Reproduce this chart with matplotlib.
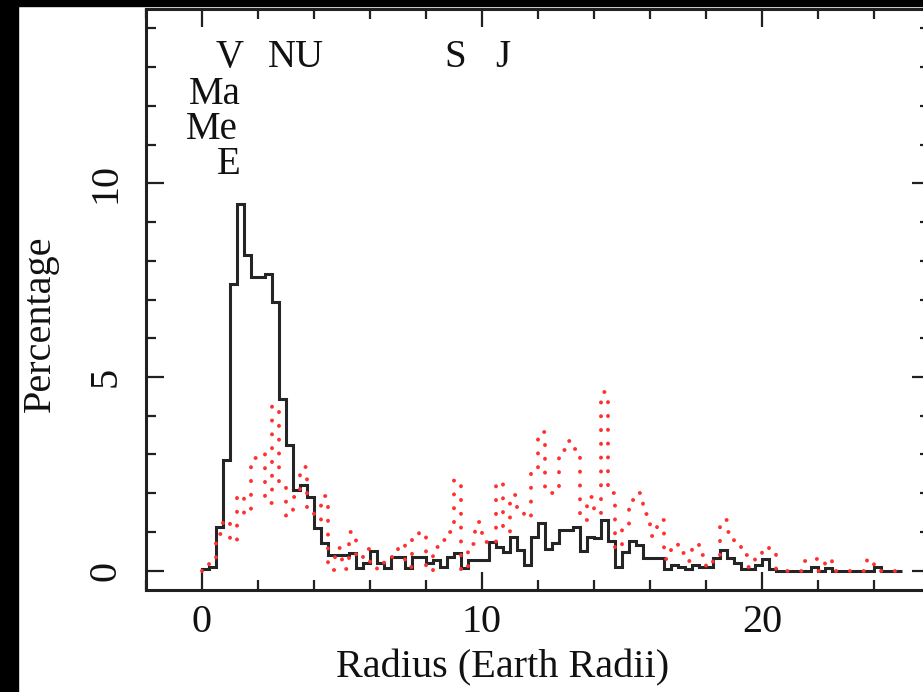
import numpy as np
import matplotlib
matplotlib.use('Agg')
import matplotlib.pyplot as plt
from matplotlib.patches import Rectangle
from matplotlib.ticker import MultipleLocator

# histogram of planet radii, bins of 0.25 Earth radii from 0 to 25
bin_width = 0.25
black_pct = [
    0.05, 0.1, 1.13, 2.85, 7.4, 9.47, 8.14, 7.58, 7.58, 7.66,
    6.93, 4.44, 3.24, 2.08, 2.21, 1.91, 1.09, 0.72, 0.4, 0.4,
    0.4, 0.46, 0.08, 0.2, 0.5, 0.2, 0.06, 0.36, 0.36, 0.06,
    0.36, 0.36, 0.19, 0.27, 0.1, 0.36, 0.45, 0.06, 0.27, 0.27,
    0.27, 0.75, 0.62, 0.49, 0.88, 0.53, 0.15, 0.88, 1.22, 0.55,
    0.72, 1.05, 1.05, 1.13, 0.5, 0.88, 0.83, 1.31, 0.77, 0.1,
    0.48, 0.77, 0.66, 0.32, 0.32, 0.32, 0.03, 0.15, 0.1, 0.03,
    0.15, 0.09, 0.09, 0.32, 0.53, 0.32, 0.19, 0.03, 0.03, 0.15,
    0.29, 0.03, 0.0, 0.0, 0.0, 0.0, 0.0, 0.1, 0.0, 0.08,
    0.0, 0.0, 0.0, 0.0, 0.0, 0.0, 0.1, 0.0, 0.0, 0.0,
]
red_pct = [
    0.03, 0.27, 0.95, 1.3, 0.75, 1.95, 1.45, 2.9, 3.0, 1.75,
    4.25, 2.2, 1.4, 1.9, 2.68, 1.5, 1.3, 1.92, 0.02, 0.58,
    0.05, 1.0, 0.3, 0.55, 0.15, 0.05, 0.35, 0.36, 0.7, 0.1,
    0.83, 1.0, 0.0, 0.62, 0.8, 1.0, 2.34, 0.0, 0.7, 1.26,
    0.75, 0.7, 2.3, 1.0, 1.95, 1.5, 1.35, 2.64, 3.58, 2.04,
    2.0, 3.11, 3.35, 3.15, 1.3, 1.9, 1.45, 4.6, 2.0, 0.55,
    1.1, 1.82, 2.0, 1.45, 0.9, 1.3, 0.3, 0.69, 0.46, 0.26,
    0.69, 0.4, 0.1, 0.35, 1.3, 1.0, 0.69, 0.4, 0.1, 0.35,
    0.6, 0.55, 0.02, 0.0, 0.0, 0.0, 0.25, 0.3, 0.0, 0.3,
    0.0, 0.0, 0.0, 0.0, 0.0, 0.3, 0.1, 0.0, 0.0, 0.0,
]

# solar system planets marked at the top
planet_names = ['V', 'NU', 'S', 'J', 'Ma', 'Me', 'E']
planet_x = [0.98, 3.35, 9.04, 10.75, 0.47, 0.37, 0.96]
planet_y = [13.0, 13.0, 13.0, 13.0, 12.05, 11.15, 10.25]

edges = np.arange(len(black_pct) + 1) * bin_width

plt.rcParams['font.family'] = ['Liberation Serif', 'DejaVu Serif']

W, H = 923, 692
fig = plt.figure(figsize=(W / 100, H / 100), dpi=100)
fig.patch.set_facecolor('white')

# axes placed in pixels; right side runs just past the picture edge
left_px, right_px, top_px, bot_px = 145.7, 930.2, 9, 590
ax = fig.add_axes([left_px / W, (H - bot_px) / H,
                   (right_px - left_px) / W, (bot_px - top_px) / H])

ax.stairs(black_pct, edges, color='#252525', lw=2.2, zorder=3)
red = ax.stairs(red_pct, edges, color='#ff3030', lw=2.8,
                linestyle=(0, (0.05, 3.5)), zorder=4)
red.set_capstyle('round')

for name, px, py in zip(planet_names, planet_x, planet_y):
    ax.text(px, py, name, ha='center', va='baseline', fontsize=28,
            color='#111111')

ax.set_xlim(-2, 26)
ax.set_ylim(-0.5, 14.5)

ax.xaxis.set_major_locator(MultipleLocator(10))
ax.xaxis.set_minor_locator(MultipleLocator(2))
ax.yaxis.set_major_locator(MultipleLocator(5))
ax.yaxis.set_minor_locator(MultipleLocator(1))

ax.tick_params(which='both', direction='in', top=True, right=True,
               width=1.6, color='#202020')
ax.tick_params(which='major', length=13)
ax.tick_params(which='minor', length=7)
ax.tick_params(axis='x', labelsize=29, pad=10, labelcolor='#111111')
ax.tick_params(axis='y', labelsize=29, pad=15, labelrotation=90,
               labelcolor='#111111')
plt.setp(ax.get_yticklabels(), va='center')

for sp in ax.spines.values():
    sp.set_linewidth(2.2)
    sp.set_color('#202020')

fig.text(503 / W, 1 - 668 / H, 'Radius (Earth Radii)', ha='center',
         va='center', fontsize=29, color='#111111')
fig.text(40 / W, 1 - 324 / H, 'Percentage', ha='center', va='center',
         rotation=90, fontsize=29, color='#111111')

# black border of the scanned picture
fig.add_artist(Rectangle((0, 0), 18 / W, 1, transform=fig.transFigure,
                         color='black', zorder=10))
fig.add_artist(Rectangle((0, 1 - 6 / H), 1, 6 / H, transform=fig.transFigure,
                         color='black', zorder=10))

fig.savefig('out.png', dpi=100)
